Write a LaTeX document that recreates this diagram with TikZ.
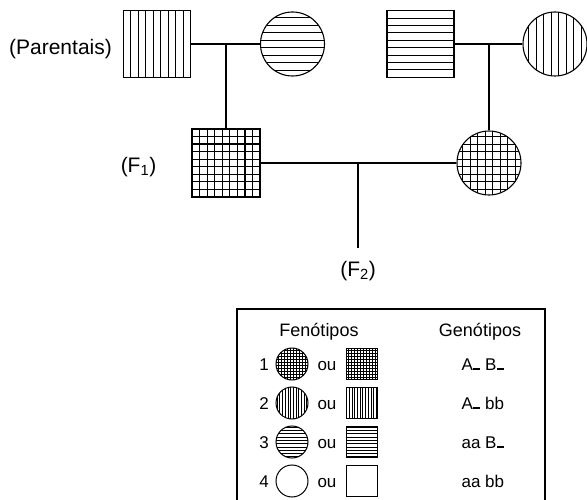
\documentclass[tikz,border=0pt]{standalone}
\usepackage{fontspec}
\setmainfont{Liberation Sans}
\newcommand{\genbar}{\kern.6pt\rule{7pt}{1.7pt}}
\begin{document}
\begin{tikzpicture}[x=1pt,y=-1pt,line width=1.1pt,
    male/.style={draw,rectangle,inner sep=0pt,minimum size=67pt},
    female/.style={draw,circle,inner sep=0pt,minimum size=64pt},
    vl/.style 2 args={path picture={
        \foreach \i in {-9,...,8}
            \draw[line width=#2] ([xshift=(\i+0.5)*#1]path picture bounding box.north)
                -- ([xshift=(\i+0.5)*#1]path picture bounding box.south);}},
    hl/.style 2 args={path picture={
        \foreach \i in {-9,...,8}
            \draw[line width=#2] ([yshift=(\i+0.5)*#1]path picture bounding box.west)
                -- ([yshift=(\i+0.5)*#1]path picture bounding box.east);}},
    gl/.style 2 args={path picture={
        \foreach \i in {-9,...,8}{
            \draw[line width=#2] ([xshift=(\i+0.5)*#1]path picture bounding box.north)
                -- ([xshift=(\i+0.5)*#1]path picture bounding box.south);
            \draw[line width=#2] ([yshift=(\i+0.5)*#1]path picture bounding box.west)
                -- ([yshift=(\i+0.5)*#1]path picture bounding box.east);}}},
    smallsq/.style={draw,rectangle,inner sep=0pt,minimum size=31pt,line width=1pt},
    smallcirc/.style={draw,circle,inner sep=0pt,minimum size=32pt,line width=1pt},
    leg1/.style={gl={3pt}{.8pt}},
    leg2/.style={vl={2.7pt}{.8pt}},
    leg3/.style={hl={3.3pt}{.8pt}},
    leg4/.style={},
    gen/.style={font=\fontsize{21}{24}\selectfont},
    legtext/.style={font=\fontsize{17}{20}\selectfont,inner sep=0pt,anchor=base}]
    \useasboundingbox (0,0) rectangle (587,500);
    % Parents
    \node[male,vl={7.5pt}{1pt}] (P1m) at (157,44) {};
    \node[female,hl={7.5pt}{1pt}] (P1f) at (292.5,44) {};
    \node[male,hl={7.4pt}{1pt}] (P2m) at (420.5,44) {};
    \node[female,vl={7.5pt}{1pt}] (P2f) at (555,44) {};
    \node[gen] (par) at (60.5,49.5) {(Parentais)};
    % F1
    \node[male,gl={7.56pt}{1.2pt},minimum size=68pt] (F1m) at (226,163) {};
    \node[female,gl={7.5pt}{1.2pt}] (F1f) at (489,163) {};
    \node[gen] (f1) at (138.5,167) {(F\textsubscript{1})};
    \coordinate (m1) at (226,44);
    \coordinate (m2) at (489,44);
    \coordinate (m3) at (358,163);
    \coordinate (m4) at (358,248);
    \node[gen] (f2) at (358,271) {(F\textsubscript{2})};
    \draw (P1m.east) -- (P1f.west);
    \draw (P2m.east) -- (P2f.west);
    \draw (m1) -- (F1m.north);
    \draw (m2) -- (F1f.north);
    \draw (F1m.east) -- (F1f.west);
    \draw (m3) -- (m4);
    % Legend
    \draw (237,309) rectangle (545,520);
    \node[legtext,font=\fontsize{18}{20}\selectfont] (fen) at (319,336) {Fenótipos};
    \node[legtext,font=\fontsize{18}{20}\selectfont] (gent) at (480,336) {Genótipos};
    \foreach \n/\y/\geno in {1/364/{A\genbar\ B\genbar},2/403/{A\genbar\ bb},3/442/{aa B\genbar},4/481/{aa bb}}{
        \node[legtext] (num\n) at (264,\y+6) {\n};
        \node[smallcirc,leg\n] (c\n) at (292,\y) {};
        \node[legtext] (ou\n) at (327,\y+6) {ou};
        \node[smallsq,leg\n] (s\n) at (361.5,\y) {};
        \node[legtext,anchor=base west] (g\n) at (461,\y+6) {\geno};
    }
\end{tikzpicture}
\end{document}
